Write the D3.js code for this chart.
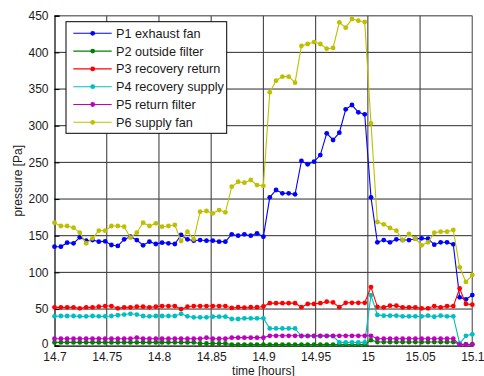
<!DOCTYPE html>
<html>
<head>
<meta charset="utf-8">
<script src="https://cdn.jsdelivr.net/npm/d3@7"></script>
<style>
  html, body { margin: 0; padding: 0; background: #fff; }
  svg { display: block; font-family: "Liberation Sans", Arial, sans-serif; }
</style>
</head>
<body>
<svg id="chart" width="484" height="376"></svg>
<script>
// sample times [hours]
const time = [
  14.7000, 14.7061, 14.7121, 14.7182, 14.7242, 14.7303, 14.7364, 14.7424, 14.7485, 14.7545,
  14.7606, 14.7667, 14.7727, 14.7788, 14.7848, 14.7909, 14.7970, 14.8030, 14.8091, 14.8152,
  14.8212, 14.8273, 14.8333, 14.8394, 14.8455, 14.8515, 14.8576, 14.8636, 14.8697, 14.8758,
  14.8818, 14.8879, 14.8939, 14.9000, 14.9061, 14.9121, 14.9182, 14.9242, 14.9303, 14.9364,
  14.9424, 14.9485, 14.9545, 14.9606, 14.9667, 14.9727, 14.9788, 14.9848, 14.9909, 14.9970,
  15.0030, 15.0091, 15.0152, 15.0212, 15.0273, 15.0333, 15.0394, 15.0455, 15.0515, 15.0576,
  15.0636, 15.0697, 15.0758, 15.0818, 15.0879, 15.0939, 15.1000
];

// pressures [Pa]
const p1 = [
  135, 135, 140.5, 139.6, 147.8, 143.2, 144.1, 141.9, 142.3, 137.3,
  136, 145, 148.7, 144.1, 136.9, 141.9, 138.7, 140.5, 139.6, 138.7,
  151, 145, 143.2, 144.1, 143.2, 143.2, 141.9, 141.9, 151.9, 150,
  151.9, 150, 153.2, 148.7, 202.3, 212.3, 207.8, 207.8, 206.4, 251.9,
  247.3, 251, 260, 289.6, 280.5, 290.5, 322.3, 328.2, 318.2, 315.5,
  202.3, 141, 144.1, 141, 145, 144.1, 144.1, 145.9, 146.4, 145.9,
  137.8, 141, 141, 138.2, 66, 63.3, 69
];
const p2 = [
  4.5, 4.5, 4.5, 4.5, 4.5, 4.5, 4.5, 4.5, 4.5, 4.5,
  4.5, 4.5, 4.5, 4.5, 4.5, 4.5, 4.5, 4.5, 4.5, 4.5,
  4.5, 4.5, 4.5, 3, 3, 3, 3, 3, 1.5, 1.5,
  1.5, 1.5, 1.5, 1.5, 1.5, 1.5, 1.5, 1.5, 1.5, 1.5,
  1.5, 1.5, 1.5, 1.5, 1.5, 1.5, 1.5, 1.5, 1.5, 1.5,
  7.5, 5, 5, 5, 5, 5, 5, 5, 5, 5,
  5, 5, 5, 5, 2, 2, 2
];
const p3 = [
  52.3, 52.3, 52.3, 52.3, 51, 52.3, 52.3, 53.2, 54.1, 54.1,
  51, 52.3, 52.3, 53.2, 53.2, 52.3, 53.2, 54.1, 54.1, 54.1,
  50, 53.2, 54.1, 54.1, 54.1, 54.1, 54.1, 54.1, 51.5, 52.5,
  52, 52.5, 52.5, 53.5, 58, 58, 58, 58, 58, 52.5,
  57, 57, 58, 60, 59, 52.5, 58.5, 58.5, 58.5, 58.5,
  80, 53, 52.3, 54.6, 54.6, 52.3, 52.3, 52.3, 51, 51,
  54, 52.3, 54, 54, 78, 57, 56
];
const p4 = [
  40, 40.5, 40.5, 40.5, 40, 40, 40.5, 40, 40, 40.5,
  41.5, 42.5, 43.5, 42.5, 40.5, 40, 40.5, 40.5, 40.5, 40.5,
  43.5, 40, 38.7, 38.7, 38.7, 39.6, 39.6, 39.6, 36.4, 36.4,
  37.3, 37.3, 37.3, 37.3, 23.5, 23.5, 23.5, 23.5, 23.5, 13,
  13, 13, 13, 13, 13, 4.5, 4.5, 4.5, 4.5, 4.5,
  69, 42, 41, 41, 41, 40, 40, 40, 40, 41,
  39.5, 41, 40, 40, 3, 13.5, 15.5
];
const p5 = [
  9.5, 9.5, 9.5, 9.5, 9.5, 9.5, 9.5, 9.5, 9.5, 9.5,
  9.5, 9.5, 9.5, 11, 9.5, 9.5, 9.5, 9.5, 9.5, 9.5,
  9.5, 9.5, 9.5, 9.5, 11, 9.5, 9.5, 9.5, 11, 11,
  11, 11, 11, 11, 13.5, 13.5, 13.5, 13.5, 13.5, 13.5,
  13.5, 13.5, 13.5, 13.5, 13.5, 13.5, 13.5, 13.5, 13.5, 13.5,
  13.5, 9.5, 9.5, 9.5, 9.5, 9.5, 9.5, 9.5, 9.5, 9.5,
  9.5, 9.5, 9.5, 9.5, 1.5, 1.5, 1.5
];
const p6 = [
  167.8, 163.2, 163.2, 161, 154.1, 139.6, 146.4, 156.9, 156.9, 163.2,
  163.2, 162.3, 147.3, 154.1, 167.8, 163.2, 166.9, 162.3, 163.2, 164.6,
  142.8, 155.5, 145, 182.8, 183.7, 180.5, 185, 181.9, 216.8, 223.6,
  222.3, 226, 219, 218, 345.5, 361.4, 366.9, 366.9, 358.7, 408.7,
  411.4, 414.1, 411.4, 405, 406, 441, 433.7, 445.5, 443.2, 441.4,
  303.2, 168.7, 165.5, 160.5, 156.9, 144.1, 152.3, 145.9, 136.9, 141,
  154.1, 155.5, 155.5, 157.8, 106.9, 86.9, 96.4
];

const seriesNames = ["P1 exhaust fan", "P2 outside filter", "P3 recovery return",
                     "P4 recovery supply", "P5 return filter", "P6 supply fan"];
const seriesValues = [p1, p2, p3, p4, p5, p6];
const seriesColors = ["#0000ff", "#008000", "#ff0000", "#00bfbf", "#bf00bf", "#bfbf00"];

const xTicks = [14.7, 14.75, 14.8, 14.85, 14.9, 14.95, 15, 15.05, 15.1];
const xTickLabels = ["14.7", "14.75", "14.8", "14.85", "14.9", "14.95", "15", "15.05", "15.1"];
const yTicks = [0, 50, 100, 150, 200, 250, 300, 350, 400, 450];

const xLabel = "time [hours]";
const yLabel = "pressure [Pa]";

// layout
const plot = { left: 54.5, right: 472.3, top: 15.7, bottom: 345.7 };

const svg = d3.select("#chart");
const x = d3.scaleLinear().domain([14.7, 15.1]).range([plot.left, plot.right]);
const y = d3.scaleLinear().domain([0, 450]).range([plot.bottom, plot.top]);

svg.append("rect")
  .attr("x", 0).attr("y", 0).attr("width", 484).attr("height", 376)
  .attr("fill", "#fff");

// grid
const grid = svg.append("g");
grid.selectAll("line.h").data(yTicks.slice(1)).join("line")
  .attr("class", "h")
  .attr("x1", plot.left).attr("x2", plot.right)
  .attr("y1", d => y(d)).attr("y2", d => y(d))
  .attr("stroke", d => d === 450 ? "#777" : "#2a2a2a")
  .attr("stroke-width", d => d === 450 ? 1.4 : 1);
grid.selectAll("line.v").data(xTicks.slice(1)).join("line")
  .attr("class", "v")
  .attr("y1", plot.top).attr("y2", plot.bottom)
  .attr("x1", d => x(d)).attr("x2", d => x(d))
  .attr("stroke", d => d === 15.1 ? "#777" : "#444")
  .attr("stroke-width", d => d === 15.1 ? 1.4 : 1.1);

// axes (left and bottom)
const xAxis = d3.axisBottom(x).tickValues(xTicks)
  .tickFormat((d, i) => xTickLabels[i]).tickSize(0).tickPadding(6);
const yAxis = d3.axisLeft(y).tickValues(yTicks).tickSize(-5).tickPadding(5);

const gx = svg.append("g").attr("transform", `translate(0,${plot.bottom})`).call(xAxis);
const gy = svg.append("g").attr("transform", `translate(${plot.left},0)`).call(yAxis);
[gx, gy].forEach(g => {
  g.select(".domain").attr("stroke", "#000").attr("stroke-width", 1.2);
  g.selectAll(".tick line").attr("stroke", "#000");
  g.selectAll(".tick text").attr("fill", "#1a1a1a")
    .attr("font-size", 12).attr("font-family", "Liberation Sans, Arial, sans-serif");
});
gy.selectAll(".tick text").attr("dx", "-1");
// lift the zero label so it clears the first time label
gy.selectAll(".tick text").filter(d => d === 0).attr("y", -2);
gx.selectAll(".tick text").attr("y", 7);

svg.append("text")
  .attr("x", (plot.left + plot.right) / 2).attr("y", 374.5)
  .attr("text-anchor", "middle").attr("font-size", 12).attr("fill", "#1a1a1a")
  .text(xLabel);
svg.append("text")
  .attr("transform", `translate(22,${(plot.top + plot.bottom) / 2}) rotate(-90)`)
  .attr("text-anchor", "middle").attr("font-size", 12).attr("fill", "#1a1a1a")
  .text(yLabel);

// series lines and markers
const line = d3.line().x((d, i) => x(time[i])).y(d => y(d));
seriesValues.forEach((vals, k) => {
  const g = svg.append("g");
  g.append("path").datum(vals)
    .attr("d", line).attr("fill", "none")
    .attr("stroke", seriesColors[k]).attr("stroke-width", 1.1);
  g.selectAll("circle").data(vals).join("circle")
    .attr("cx", (d, i) => x(time[i])).attr("cy", d => y(d))
    .attr("r", 2.4).attr("fill", seriesColors[k]);
});

// legend
const legend = svg.append("g");
legend.append("rect")
  .attr("x", 66).attr("y", 21.7).attr("width", 160.7).attr("height", 111.6)
  .attr("fill", "#fff").attr("stroke", "#000").attr("stroke-width", 1);
const rowY = d3.scaleLinear().domain([0, 5]).range([33.3, 122.3]);
seriesNames.forEach((name, k) => {
  const yy = rowY(k);
  legend.append("line")
    .attr("x1", 73.3).attr("x2", 111.7).attr("y1", yy).attr("y2", yy)
    .attr("stroke", seriesColors[k]).attr("stroke-width", 1.1);
  legend.append("circle").attr("cx", 92.7).attr("cy", yy).attr("r", 2.4)
    .attr("fill", seriesColors[k]);
  legend.append("text")
    .attr("x", 116).attr("y", yy).attr("dy", "0.35em")
    .attr("font-size", 12.7).attr("fill", "#1a1a1a")
    .text(name);
});
</script>
</body>
</html>
